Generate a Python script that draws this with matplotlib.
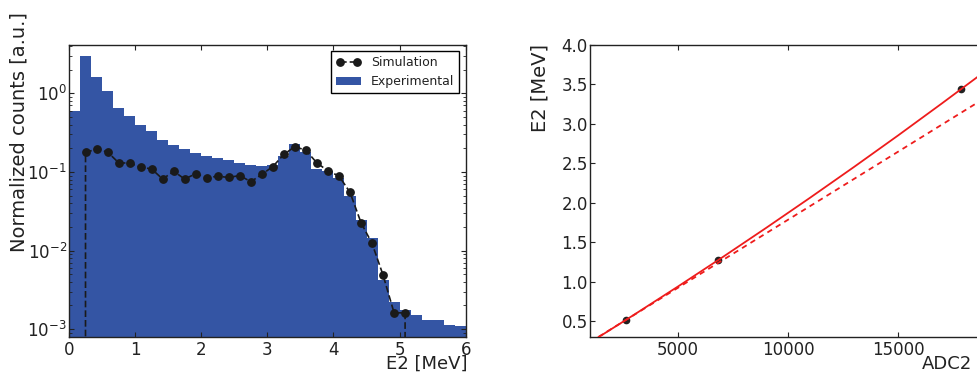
import numpy as np
import matplotlib
matplotlib.use('Agg')
import matplotlib.pyplot as plt

## left panel: E2 spectrum, 36 bins of 1/6 MeV from 0 to 6 MeV
e2_edges = np.linspace(0, 6, 37)
exp_counts = [0.60, 2.99, 1.61, 1.08, 0.66, 0.51, 0.39, 0.33, 0.254, 0.22,
              0.195, 0.174, 0.160, 0.151, 0.141, 0.129, 0.122, 0.119, 0.122, 0.159,
              0.226, 0.177, 0.109, 0.103, 0.083, 0.050, 0.0243, 0.0144, 0.0042, 0.0022,
              0.00177, 0.0015, 0.0013, 0.0013, 0.00112, 0.0011]
sim_counts = [0, 0.177, 0.195, 0.179, 0.131, 0.129, 0.115, 0.109, 0.081, 0.102,
              0.081, 0.095, 0.0845, 0.088, 0.085, 0.090, 0.075, 0.093, 0.117, 0.167,
              0.21, 0.188, 0.130, 0.103, 0.0887, 0.055, 0.0226, 0.0123, 0.00487, 0.00161,
              0.00161, 0, 0, 0, 0, 0]

## right panel: calibration ADC2 -> E2
cal_adc = [2636, 6832, 17864]
cal_e = [0.513, 1.274, 3.438]
fit_adc = [1000, 3000, 5000, 7000, 9000, 11000, 13000, 15000, 17000, 19000]
fit_e = [0.226, 0.578, 0.937, 1.304, 1.679, 2.062, 2.453, 2.852, 3.260, 3.675]
lin_adc = [1000, 19000]
lin_e = [0.231, 3.336]

txt_col = '#222222'
plt.rcParams['font.family'] = 'DejaVu Sans'
plt.rcParams['text.color'] = txt_col
plt.rcParams['axes.labelcolor'] = txt_col
plt.rcParams['xtick.color'] = txt_col
plt.rcParams['ytick.color'] = txt_col
plt.rcParams['axes.edgecolor'] = '#222222'

fig = plt.figure(figsize=(9.77, 3.74), dpi=100)
ax1 = fig.add_axes([69/977, 0.0997, 396.7/977, 0.780])
ax2 = fig.add_axes([590/977, 0.0997, 418/977, 0.780])

# histogram + simulation
widths = np.diff(e2_edges)
centers = e2_edges[:-1] + widths/2
ax1.bar(e2_edges[:-1], exp_counts, width=widths, align='edge', color='#3455a4',
        linewidth=0, log=True, label='Experimental')
ax1.plot(centers, sim_counts, color='#1a1a1a', ls='--', dashes=(4, 1.8), lw=1.2,
         marker='o', ms=5.3, label='Simulation')
ax1.set_yscale('log')
ax1.set_xlim(0, 6)
ax1.set_ylim(8e-4, 4.12)
ax1.set_xticks(range(7))
ax1.set_xlabel('E2 [MeV]', fontsize=13)
ax1.xaxis.set_label_coords(0.902, -0.062)
ax1.set_ylabel('Normalized counts [a.u.]', fontsize=14)
ax1.yaxis.set_label_coords(-0.103, 0.70)
leg = ax1.legend(loc='upper right', fontsize=9, numpoints=2, handlelength=2,
                 fancybox=False, framealpha=1, edgecolor='black', borderaxespad=0.5)
leg.get_frame().set_linewidth(1.0)

# calibration
ax2.plot(cal_adc, cal_e, 'o', color='#222222', ms=4.5, zorder=2)
ax2.plot(fit_adc, fit_e, '-', color='#ee1c1c', lw=1.3, zorder=3)
ax2.plot(lin_adc, lin_e, '--', color='#ee1c1c', lw=1.3, dashes=(3, 2.5), zorder=3)
ax2.set_xlim(1000, 20000)
ax2.set_ylim(0.3, 4.0)
ax2.set_xticks([5000, 10000, 15000])
ax2.set_yticks(np.arange(0.5, 4.01, 0.5))
ax2.set_yticklabels(['%.1f' % v for v in np.arange(0.5, 4.01, 0.5)])
ax2.set_xlabel('ADC2', fontsize=13)
ax2.xaxis.set_label_coords(0.855, -0.062)
ax2.set_ylabel('E2 [MeV]', fontsize=14)
ax2.yaxis.set_label_coords(-0.096, 0.851)

for ax in (ax1, ax2):
    ax.tick_params(which='both', direction='in', top=True, right=True, labelsize=12)
    ax.tick_params(which='major', length=3.5, width=0.8)
    ax.tick_params(which='minor', length=2, width=0.6)
    ax.tick_params(axis='x', pad=3)
    ax.tick_params(axis='y', pad=1.5)
    for s in ax.spines.values():
        s.set_linewidth(1.0)

fig.savefig('out.png', dpi=100)
